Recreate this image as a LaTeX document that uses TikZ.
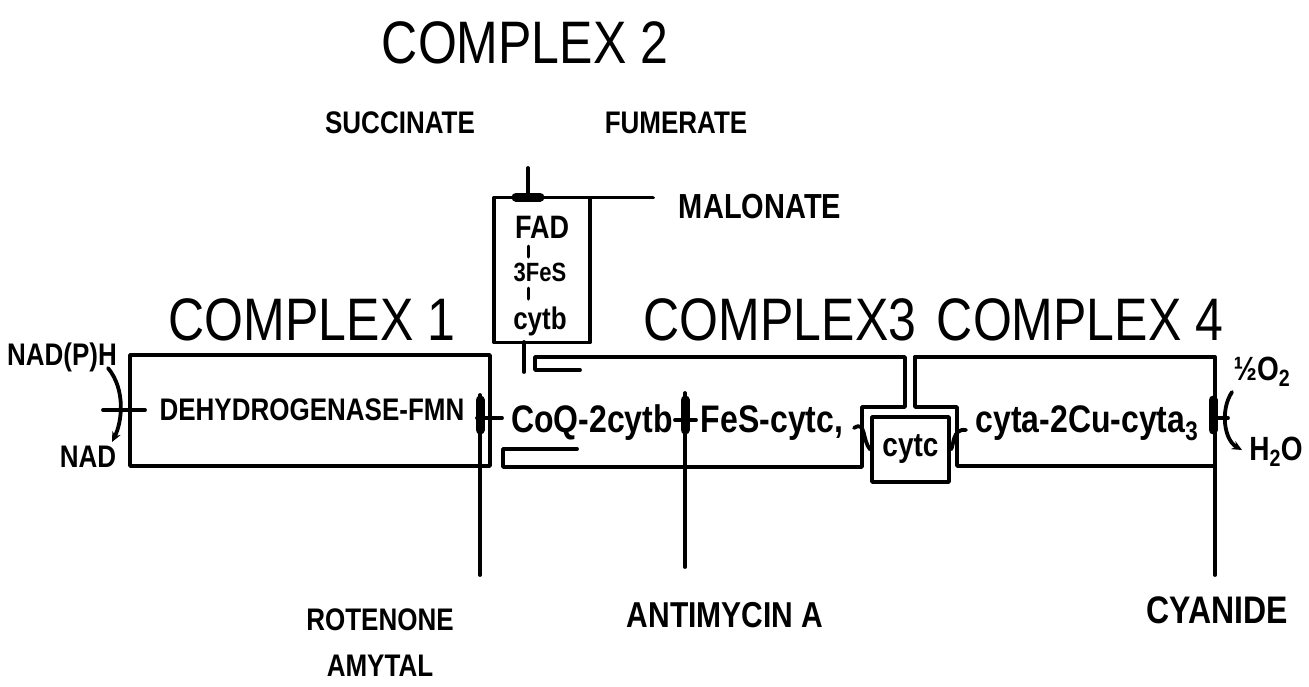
\documentclass[tikz,border=0pt]{standalone}
\usepackage{fontspec}
\usepackage{graphicx}
\setmainfont{Liberation Sans}
\usetikzlibrary{arrows.meta}
\newcommand{\fsz}[1]{\fontsize{#1}{#1}\selectfont}
\newcommand{\vt}[1]{\scalebox{1}[1.2]{#1}}
\begin{document}
\begin{tikzpicture}[x=1pt,y=-1pt,
  wall/.style={line width=3.8pt, line cap=round, line join=round},
  blocker/.style={line width=9pt, line cap=round},
  title/.style={inner sep=0pt, font=\fsz{50}},
  lbl/.style={inner sep=0pt, font=\fsz{26}\bfseries},
  chem/.style={inner sep=0pt, anchor=base, font=\fsz{32}\bfseries},
  boxnode/.style={draw, wall, inner sep=0pt},
  ]
\useasboundingbox[fill=white] (0,0) rectangle (1309,686);

% titles
\node[title] (t2) at (525,43) {\vt{COMPLEX 2}};
\node[title] (t1) at (312,320) {\vt{COMPLEX 1}};
\node[title] (t3) at (780,320) {\vt{COMPLEX3}};
\node[title] (t4) at (1080,320) {\vt{COMPLEX 4}};

% complex 2 labels
\node[lbl] (succ) at (400,123) {\vt{SUCCINATE}};
\node[lbl] (fum) at (676,123) {\vt{FUMERATE}};
\node[lbl, font=\fsz{29}\bfseries] (mal) at (760,207) {\vt{MALONATE}};

% complex 2 box
\node[boxnode, minimum width=96pt, minimum height=145pt] (c2box) at (542,270) {};
\node[lbl, font=\fsz{27}\bfseries] (fad) at (542,227) {\vt{FAD}};
\node[lbl, font=\fsz{22}\bfseries] (fes2) at (540,272) {\vt{3FeS}};
\node[lbl, font=\fsz{26}\bfseries] (cytb2) at (540,321) {\vt{cytb}};
\coordinate (d1a) at (528,246);
\coordinate (d1b) at (528,257);
\coordinate (d2a) at (528,288);
\coordinate (d2b) at (528,299);
\draw[wall, line width=3pt] (d1a) -- (d1b);
\draw[wall, line width=3pt] (d2a) -- (d2b);
\coordinate (c2ne) at (590,197.5);
\coordinate (malend) at (653,197.5);
\draw[wall] (c2ne) -- (malend);
\coordinate (stemtop) at (528,168);
\coordinate (stembot) at (528,197);
\draw[wall] (stemtop) -- (stembot);
\draw[blocker] (516,197) -- (540,197);
\coordinate (c2out) at (524,342);
\coordinate (c2in) at (524,372);
\draw[wall] (c2out) -- (c2in);

% complex 1
\node[boxnode, minimum width=360pt, minimum height=111pt] (c1box) at (310,410.5) {};
\node[lbl] (dh) at (312,410) {\vt{DEHYDROGENASE-FMN}};
\node[lbl] (nadph) at (62,357) {\vt{NAD(P)H}};
\node[lbl] (nad) at (88,457) {\vt{NAD}};
\coordinate (nadA) at (108,368);
\coordinate (nadB) at (112,442);
\draw[wall,-{Stealth[length=10pt,width=9pt]}] (nadA) .. controls (126,390) and (122,422) .. (nadB);
\draw[wall] (103,410) -- (145,410);

% complex 3 outline
\draw[wall] (580,370) -- (535,370) -- (535,357) -- (905,357) -- (905,407) -- (862,407)
  -- (862,467) -- (503,467) -- (503,449) -- (577,449);
\node[chem] (coq) at (592,432) {\vt{CoQ-2cytb}};
\node[chem] (fes) at (772,432) {\vt{FeS-cytc,}};

% complex 4 outline
\draw[wall] (915,357) -- (915,407) -- (957,407) -- (957,466) -- (1215,466);
\draw[wall] (915,357) -- (1215,357) -- (1215,575);
\node[chem] (cyta) at (1087,432) {\vt{cyta-2Cu-cyta\textsubscript{3}}};

% cytc box
\node[boxnode, minimum width=77pt, minimum height=65pt, font=\fsz{28}\bfseries] (cytc) at (910.5,449.5) {\vt{cytc}};
\coordinate (cl) at (854,428);
\coordinate (cr) at (966,430);
\draw[wall] (cl) .. controls (866,420) and (862,440) .. (cytc.west);
\draw[wall] (cytc.east) .. controls (954,446) and (952,428) .. (cr);

% oxygen
\node[lbl, font=\fsz{28}\bfseries] (o2) at (1262,372) {\vt{½O\textsubscript{2}}};
\node[lbl, font=\fsz{28}\bfseries] (h2o) at (1276,452) {\vt{H\textsubscript{2}O}};
\coordinate (oA) at (1232,392);
\coordinate (oB) at (1242,450);
\draw[wall,-{Stealth[length=10pt,width=9pt]}] (oA) .. controls (1220,410) and (1224,440) .. (oB);
\draw[wall] (1212,418) -- (1228,418);

% inhibitors
\coordinate (rotA) at (480,395);
\coordinate (rotB) at (480,575);
\draw[wall] (rotA) -- (rotB);
\draw[blocker] (480,400) -- (480,430);
\draw[wall] (477,418) -- (502,418);
\coordinate (antA) at (685,393);
\coordinate (antB) at (685,567);
\draw[wall] (antA) -- (antB);
\draw[blocker] (685,400) -- (685,430);
\draw[wall] (675,420) -- (696,420);
\draw[blocker] (1213,400) -- (1213,430);

\node[lbl] (rot) at (380,620) {\vt{ROTENONE}};
\node[lbl] (amy) at (380,666) {\vt{AMYTAL}};
\node[lbl, font=\fsz{30}\bfseries] (anti) at (725,615) {\vt{ANTIMYCIN A}};
\node[lbl, font=\fsz{32}\bfseries] (cyan) at (1217,610) {\vt{CYANIDE}};
\end{tikzpicture}
\end{document}
